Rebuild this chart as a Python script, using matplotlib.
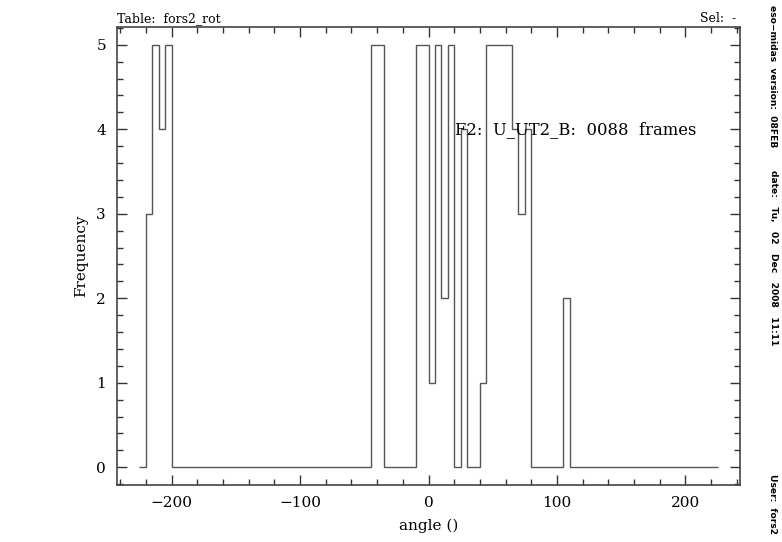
import numpy as np
import matplotlib
matplotlib.use("Agg")
import matplotlib.pyplot as plt
from matplotlib.ticker import MultipleLocator

# Histogram of rotation angle, bins 5 deg wide from -225 to 225
bin_lo = -225
bin_hi = 225
bin_width = 5
# nonzero bins: left edge -> count
nonzero_left_edges = [-220, -215, -210, -205, -45, -40, -10, -5, 0, 5, 10, 15,
                      25, 40, 45, 50, 55, 60, 65, 70, 75, 105]
nonzero_counts = [3, 5, 4, 5, 5, 5, 5, 5, 1, 5, 2, 5,
                  4, 1, 5, 5, 5, 5, 4, 3, 4, 2]

edges = np.arange(bin_lo, bin_hi + bin_width, bin_width)
lookup = dict(zip(nonzero_left_edges, nonzero_counts))
counts = np.array([lookup.get(int(e), 0) for e in edges[:-1]], dtype=float)

title_left = "Table:  fors2_rot"
title_right = "Sel:  -"
annotation = "F2:  U_UT2_B:  0088  frames"
xlabel = "angle ()"
ylabel = "Frequency"
xtick_vals = [-200, -100, 0, 100, 200]
xtick_labels = ["\u2212200", "\u2212100", "0", "100", "200"]
ytick_vals = [0, 1, 2, 3, 4, 5]
ytick_labels = ["0", "1", "2", "3", "4", "5"]
side_texts = ["eso\u2212midas  version:  08FEB",
              "date:   Tu,   02   Dec   2008   11:11",
              "User:  fors2"]

fig = plt.figure(figsize=(7.82, 5.42), dpi=100)
ax = fig.add_axes([117/782, 57/542, 623/782, 458/542])

ax.stairs(counts, edges, color="#555555", linewidth=1.0)

ax.set_xlim(-242.5, 242.5)
ax.set_ylim(-0.21, 5.21)

ax.xaxis.set_minor_locator(MultipleLocator(20))
ax.yaxis.set_minor_locator(MultipleLocator(0.2))

ax.tick_params(which="both", direction="in", top=True, right=True,
               color="#333333", width=1.0)
ax.tick_params(which="major", length=7, labelsize=11, pad=8)
ax.tick_params(which="minor", length=4)
for s in ax.spines.values():
    s.set_color("#444444")
    s.set_linewidth(1.2)

ax.set_xticks(xtick_vals)
ax.set_xticklabels(xtick_labels, family="DejaVu Serif")
ax.set_yticks(ytick_vals)
ax.set_yticklabels(ytick_labels, family="DejaVu Serif")

ax.set_xlabel(xlabel, family="DejaVu Serif", fontsize=11, labelpad=6)
ax.set_ylabel(ylabel, family="DejaVu Serif", fontsize=11, labelpad=6)

fig.text(117/782, 1 - 22/542, title_left, family="DejaVu Serif", fontsize=9,
         ha="left", va="baseline")
fig.text(736/782, 1 - 22/542, title_right, family="DejaVu Serif", fontsize=9,
         ha="right", va="baseline")
fig.text(455/782, 1 - 130/542, annotation, family="DejaVu Serif", fontsize=11.8,
         ha="left", va="center")

side_y = [5, 170, 474]
for t, yy in zip(side_texts, side_y):
    fig.text(773/782, 1 - yy/542, t, family="DejaVu Sans", fontsize=6.6,
             fontweight="bold", rotation=-90, ha="center", va="top")

fig.savefig("out.png", dpi=100)
